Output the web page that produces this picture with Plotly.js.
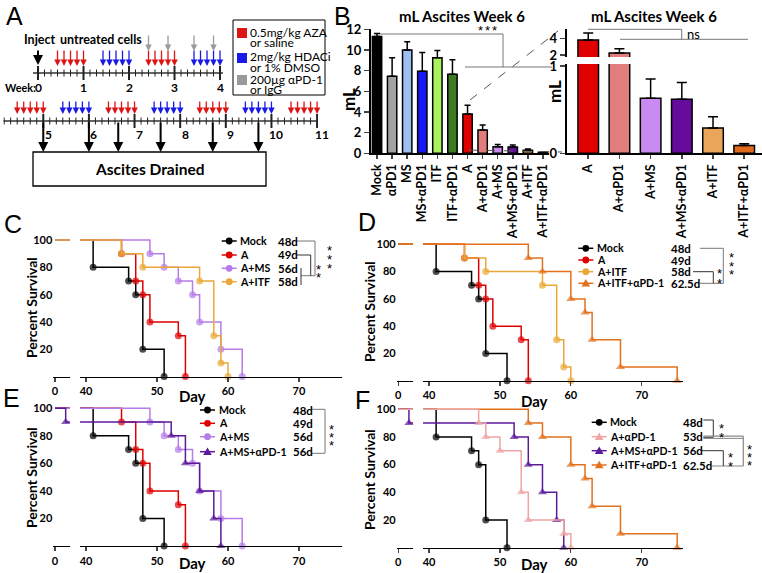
<!DOCTYPE html>
<html>
<head>
<meta charset="utf-8">
<script src="https://cdn.plot.ly/plotly-3.0.1.min.js"></script>
<style>body{margin:0;background:#fff;} #plot{width:762px;height:573px;}</style>
</head>
<body>
<div id="plot"></div>
<script>
// ---- data ----
// B: mL ascites at week 6
var groups = ['Mock','αPD1','MS','MS+αPD1','ITF','ITF+αPD1','A','A+αPD1','A+MS','A+MS+αPD1','A+ITF','A+ITF+αPD1'];
var mlMean = [11.3, 7.45, 10.0, 7.95, 9.25, 7.65, 3.8, 2.25, 0.63, 0.62, 0.29, 0.09];
var mlErr  = [0.3, 1.8, 0.8, 1.8, 0.7, 1.4, 0.85, 0.5, 0.22, 0.19, 0.13, 0.02];
var barColors = ['#000000','#a2a2a2','#9fbff3','#1818f2','#aaf25e','#3d7c20','#e00000','#e27d7d','#c98af2','#650c9c','#e9a55a','#df6a1a'];

// C-F: Kaplan-Meier steps (day of death, % surviving after it)
var mockDays = [41, 46, 47, 48, 51];          var mockSurv = [80, 70, 60, 20, 0];
var aDays = [45, 47, 48, 49, 53, 54];          var aSurv = [90, 70, 60, 40, 30, 0];
var amsDays = [49, 51, 53, 55, 56, 59, 62];    var amsSurv = [90, 80, 70, 60, 40, 20, 0];
var aitfDays = [45, 48, 56, 58, 59, 60];       var aitfSurv = [90, 80, 70, 30, 10, 0];
var aitfpDays = [54, 56, 60, 62, 63, 67, 75];  var aitfpSurv = [90, 80, 60, 50, 30, 10, 0];
var apDays = [47, 48, 50, 53, 54, 59, 60];     var apSurv = [90, 80, 70, 40, 20, 10, 0];
var amspDays = [1.5, 52, 54, 56, 58, 59];      var amspSurv = [90, 80, 60, 40, 20, 0];

var legC = ['Mock','A','A+MS','A+ITF'];               var medC = ['48d','49d','56d','58d'];
var legD = ['Mock','A','A+ITF','A+ITF+αPD-1'];        var medD = ['48d','49d','58d','62.5d'];
var legE = ['Mock','A','A+MS','A+MS+αPD-1'];          var medE = ['48d','49d','56d','56d'];
var legF = ['Mock','A+αPD-1','A+MS+αPD-1','A+ITF+αPD-1']; var medF = ['48d','53d','56d','62.5d'];

// A: treatment schedule (days)
var azaDays = [3,4,5,6,7, 17,18,19,20,21, 31,32,33,34,35, 45,46,47,48,49, 59,60,61,62,63, 73,74,75,76,77];
var hdacDays = [10,11,12,13,14, 24,25,26,27,28, 38,39,40,41,42, 52,53,54,55,56, 66,67,68,69,70];
var pd1Days = [17, 20, 24, 27];
var drainDays = [35, 42, 46.5, 53, 61, 68];
var weeks = [0,1,2,3,4,5,6,7,8,9,10,11];

// ---- helpers ----
var W = 762, H = 573;
function px(x){ return x / W; }
function py(y){ return 1 - y / H; }
function dx(a, b){ return [px(a), px(b)]; }
function dy(top, bottom){ return [py(bottom), py(top)]; }
var shapes = [], ann = [];
function line(x0, y0, x1, y1, color, width, dash){
  shapes.push({type:'line', xref:'paper', yref:'paper', x0:px(x0), y0:py(y0), x1:px(x1), y1:py(y1),
    line:{color:color || 'black', width:width || 1, dash:dash || 'solid'}});
}
function poly(pts, color, width){
  for (var i = 0; i < pts.length - 1; i++) line(pts[i][0], pts[i][1], pts[i+1][0], pts[i+1][1], color, width);
}
function label(x, y, s, size, opt){
  opt = opt || {};
  ann.push({xref:'paper', yref:'paper', x:px(x), y:py(y), text:s, showarrow:false,
    xanchor:opt.anchor || 'center', yanchor:'middle', textangle:opt.angle || 0,
    font:{family:opt.family || 'Lato', size:size, color:opt.color || 'black', weight:opt.weight || 'normal'}});
}
function stars(x, ys){
  ys.forEach(function(y){
    ann.push({xref:'paper', yref:'paper', x:px(x), y:py(y), text:'*', showarrow:false, xanchor:'center',
      yanchor:'middle', yshift:-4, font:{family:'Liberation Sans', size:13, color:'black'}});
  });
}

var km = {
  'Mock': [mockDays, mockSurv], 'A': [aDays, aSurv], 'A+MS': [amsDays, amsSurv], 'A+ITF': [aitfDays, aitfSurv],
  'A+ITF+αPD-1': [aitfpDays, aitfpSurv], 'A+αPD-1': [apDays, apSurv], 'A+MS+αPD-1': [amspDays, amspSurv]
};
var kmStyle = {
  'Mock': {color:'#000000', symbol:'circle'},
  'A': {color:'#e00000', symbol:'circle'},
  'A+MS': {color:'#b67ce8', symbol:'circle'},
  'A+ITF': {color:'#eaa838', symbol:'circle'},
  'A+ITF+αPD-1': {color:'#e2701d', symbol:'triangle-up'},
  'A+αPD-1': {color:'#f0a4a4', symbol:'triangle-up'},
  'A+MS+αPD-1': {color:'#5c1a9a', symbol:'triangle-up'}
};

var data = [];

// ---- B bars ----
var zeros = mlErr.map(function(){ return 0; });
data.push({type:'bar', x:groups, y:mlMean, xaxis:'x', yaxis:'y', width:0.62,
  marker:{color:barColors, line:{color:'black', width:1.5}},
  error_y:{type:'data', symmetric:false, array:mlErr, arrayminus:zeros, color:'black', thickness:1.5, width:3},
  hoverinfo:'skip'});
['y2','y3'].forEach(function(ya){
  data.push({type:'bar', x:groups.slice(6), y:mlMean.slice(6), xaxis:'x2', yaxis:ya, width:0.66,
    marker:{color:barColors.slice(6), line:{color:'black', width:1.5}},
    error_y:{type:'data', symmetric:false, array:mlErr.slice(6), arrayminus:zeros.slice(6), color:'black', thickness:1.5, width:5},
    hoverinfo:'skip'});
});

// ---- survival curves ----
function kmTraces(name, xa1, xa2, ya){
  var d = km[name], st = kmStyle[name];
  var xs = [0].concat(d[0]), ys = [100].concat(d[1]);
  var sizes = xs.map(function(v, i){ return i === 0 ? 0 : (st.symbol === 'circle' ? 7 : 8); });
  return [xa1, xa2].map(function(xa){
    return {type:'scatter', mode:'lines+markers', x:xs, y:ys, xaxis:xa, yaxis:ya, cliponaxis:false,
      line:{shape:'hv', color:st.color, width:1.5}, marker:{symbol:st.symbol, size:sizes, color:st.color, line:{width:0}},
      hoverinfo:'skip'};
  });
}
var panels = [
  {names:legC, meds:medC, order:legC, xs:'x3', xb:'x4', y:'y4', lx:221.7, rows:[241,255,268.3,281.7], mx:276},
  {names:legD, meds:medD, order:legD, xs:'x5', xb:'x6', y:'y5', lx:578.3, rows:[248.3,260,271.7,283.3], mx:669},
  {names:legE, meds:medE, order:legE, xs:'x7', xb:'x8', y:'y6', lx:200, rows:[410,423.3,436.7,451.7], mx:291},
  {names:legF, meds:medF, order:['Mock','A+ITF+αPD-1','A+MS+αPD-1','A+αPD-1'], xs:'x9', xb:'x10', y:'y7', lx:591.7, rows:[422.3,436.7,450.7,465], mx:681}
];
panels.forEach(function(p){
  p.order.forEach(function(n){ data = data.concat(kmTraces(n, p.xs, p.xb, p.y)); });
  p.names.forEach(function(n, i){
    var st = kmStyle[n], ry = p.rows[i], cx = p.lx + 7.5;
    line(p.lx, ry, p.lx + 15, ry, st.color, 1.5);
    if (st.symbol === 'circle') {
      shapes.push({type:'circle', xref:'paper', yref:'paper', x0:px(cx-3.4), x1:px(cx+3.4), y0:py(ry+3.4), y1:py(ry-3.4),
        fillcolor:st.color, line:{width:0}});
    } else {
      shapes.push({type:'path', xref:'paper', yref:'paper', fillcolor:st.color, line:{width:0},
        path:'M'+px(cx-4.3)+','+py(ry+3.2)+' L'+px(cx+4.3)+','+py(ry+3.2)+' L'+px(cx)+','+py(ry-4.2)+' Z'});
    }
    label(p.lx + 16.5, ry, n, 10.6, {anchor:'left', weight:'bold'});
    label(p.mx, ry, p.meds[i], 11.5, {anchor:'left', weight:'bold'});
  });
});

// dummy traces so the schedule axes exist
data.push({type:'scatter', x:[0], y:[0], xaxis:'x11', yaxis:'y8', mode:'markers', marker:{opacity:0}, hoverinfo:'skip'});
data.push({type:'scatter', x:[40], y:[0], xaxis:'x12', yaxis:'y8', mode:'markers', marker:{opacity:0}, hoverinfo:'skip'});

// ---- A: schedule ----
var rows = [
  {xa:'x11', y:73, head:66, len:17, d0:-0.77, d1:28.46, lab:87, shift:0},
  {xa:'x12', y:121, head:114, len:14, d0:28.87, d1:77.14, lab:135, shift:5}
];
function rowFor(d){ return d <= 28.5 ? rows[0] : rows[1]; }
rows.forEach(function(r){
  shapes.push({type:'line', xref:r.xa, yref:'paper', x0:r.d0, x1:r.d1, y0:py(r.y), y1:py(r.y), line:{color:'#333', width:1.3}});
  for (var d = Math.ceil(r.d0); d <= r.d1; d++) {
    var major = d % 7 === 0, h = major ? 7 : 3.5;
    shapes.push({type:'line', xref:r.xa, yref:'paper', x0:d, x1:d, y0:py(r.y - h), y1:py(r.y + h),
      line:{color:'#222', width:major ? 2 : 1}});
  }
});
weeks.forEach(function(w){
  var r = rowFor(w * 7);
  ann.push({xref:r.xa, yref:'paper', x:w * 7, y:py(r.lab), text:String(w), showarrow:false, xshift:r.shift,
    xanchor:'center', yanchor:'middle', font:{family:'Lato', size:12, weight:'bold', color:'black'}});
});
function arrowAt(xa, d, yHead, len, color, width){
  ann.push({xref:xa, yref:'paper', x:d, y:py(yHead), ax:0, ay:-len, text:'', showarrow:true,
    arrowhead:2, arrowsize:1, arrowwidth:width, arrowcolor:color, standoff:0});
}
azaDays.forEach(function(d){ var r = rowFor(d); arrowAt(r.xa, d, r.head, r.len, '#dd1414', 1.3); });
hdacDays.forEach(function(d){ var r = rowFor(d); arrowAt(r.xa, d, r.head, r.len, '#1a1ae8', 1.3); });
pd1Days.forEach(function(d){ arrowAt('x11', d, 51, 17, '#9a9a9a', 1.3); });
arrowAt('x11', 0, 65, 16, 'black', 2);
drainDays.forEach(function(d){ arrowAt('x12', d, 152, 31, 'black', 2); });
label(22, 39, 'Inject', 12.5, {anchor:'left', weight:'bold'});
label(58, 39, 'untreated cells', 12.5, {anchor:'left', weight:'bold'});
label(3, 87, 'Week:', 10.8, {anchor:'left', weight:'bold'});
shapes.push({type:'rect', xref:'paper', yref:'paper', x0:px(33), x1:px(266), y0:py(186), y1:py(152), line:{color:'black', width:1.3}});
label(150, 169, 'Ascites Drained', 15.5, {weight:'bold'});
// treatment key
shapes.push({type:'rect', xref:'paper', yref:'paper', x0:px(233), x1:px(325), y0:py(95), y1:py(20), line:{color:'black', width:1}});
[['#dd1414', 28, '0.5mg/kg AZA', 'or saline'], ['#1a1ae8', 53, '2mg/kg HDACi', 'or 1% DMSO'], ['#9a9a9a', 75, '200µg αPD-1', 'or IgG']].forEach(function(k){
  shapes.push({type:'rect', xref:'paper', yref:'paper', x0:px(237), x1:px(247), y0:py(k[1] + 10), y1:py(k[1]), fillcolor:k[0], line:{width:0}});
  label(248, k[1] + 4, k[2], 12, {anchor:'left'});
  label(248, k[1] + 14.5, k[3], 12, {anchor:'left'});
});

// ---- B decorations ----
label(462, 16, 'mL Ascites Week 6', 15, {weight:'bold'});
label(654, 16, 'mL Ascites Week 6', 15, {weight:'bold'});
label(348, 100, 'mL', 17, {weight:'bold', angle:-90});
label(554, 92, 'mL', 17, {weight:'bold', angle:-90});
poly([[380, 34], [503, 34], [503, 67]], '#777', 1);
line(465, 67, 552, 67, '#777', 1);
stars(480, [27]); stars(487, [27]); stars(494, [27]);
line(470, 100, 558, 31, '#555', 1, 'dash');
line(468, 150, 562, 152, '#555', 1, 'dash');
poly([[588, 29.3], [681.7, 29.3], [681.7, 39.3]], '#777', 1);
line(620, 39.3, 748, 39.3, '#777', 1);
label(693, 34, 'ns', 13);

// ---- survival decorations ----
[[31, 308, 192, 396], [369, 312, 534, 401], [31, 478, 192, 563], [369, 480, 534, 564]].forEach(function(t){
  label(t[0], t[1], 'Percent Survival', 14, {weight:'bold', angle:-90});
  label(t[2], t[3], 'Day', 15, {weight:'bold'});
});
// C brackets
poly([[297, 241], [315, 241], [315, 275.7], [301, 275.7]], '#777', 1);
poly([[297, 255], [310.7, 255], [310.7, 275.7]], '#333', 1);
line(301, 268, 301, 285, '#333', 1);
stars(329, [246.7, 255.3, 264]); stars(318, [265, 273]);
// D brackets
poly([[700, 248.3], [723.3, 248.3], [723.3, 283.3], [700, 283.3]], '#777', 1);
poly([[693, 271.7], [713.3, 271.7], [713.3, 283.3]], '#333', 1);
stars(731.7, [253, 262, 271]); stars(719, [270, 279]);
// E brackets
poly([[311.7, 409.3], [325, 409.3], [325, 453.3], [311.7, 453.3]], '#777', 1);
stars(331, [425, 433.3, 441.7]);
// F brackets
poly([[703.3, 420], [713.3, 420], [713.3, 437.3], [703.3, 437.3]], '#333', 1);
stars(721.7, [424.3, 433.3]);
poly([[703.3, 436.2], [743.3, 436.2], [743.3, 466], [711.7, 466]], '#888', 1.2);
line(703.3, 438.4, 743.3, 438.4, '#888', 1);
stars(749, [445, 453.3, 461.7]);
poly([[701.7, 450.7], [723.3, 450.7], [723.3, 466]], '#333', 1);
stars(730, [453.3, 462.3]);

// panel letters
[['A', 14, 16], ['B', 342, 16], ['C', 12.5, 224], ['D', 367, 222], ['E', 11.5, 398], ['F', 362, 400]].forEach(function(l){
  label(l[1], l[2], l[0], 25, {family:'Liberation Sans'});
});

// ---- axes ----
var tickBold = {family:'Lato', size:13, weight:'bold', color:'black'};
var catFont = {family:'Lato', size:12.5, weight:'bold', color:'black'};
var survTick = {family:'Lato', size:11, weight:'bold', color:'black'};
function catAxis(dom, rng, anchor, cats){
  return {domain:dom, range:rng, anchor:anchor, type:'category', tickmode:'array', tickvals:cats, showline:true, linewidth:2, linecolor:'black',
    ticks:'outside', ticklen:4, tickwidth:1.5, tickangle:-90, tickfont:catFont, showgrid:false, zeroline:false, fixedrange:true};
}
function valAxis(dom, rng, anchor, vals){
  return {domain:dom, range:rng, anchor:anchor, showline:true, linewidth:2, linecolor:'black', ticks:'outside',
    ticklen:5, tickwidth:1.5, tickvals:vals, tickfont:tickBold, showgrid:false, zeroline:false, fixedrange:true};
}
function segAxis(dom, rng, anchor, vals){
  return {domain:dom, range:rng, anchor:anchor, showline:true, linewidth:1.3, linecolor:'black', ticks:'outside',
    ticklen:4, tickwidth:1.2, tickvals:vals, tickfont:survTick, showgrid:false, zeroline:false, fixedrange:true};
}
function survY(dom, anchor){
  return {domain:dom, range:[0, 102], anchor:anchor, showline:false, ticks:'',
    tickvals:[20, 40, 60, 80, 100], tickfont:survTick, showgrid:false, zeroline:false, fixedrange:true};
}
function hidden(dom, rng, anchor){
  return {domain:dom, range:rng, anchor:anchor, visible:false, showgrid:false, zeroline:false, fixedrange:true};
}

var layout = {
  width:W, height:H, margin:{l:0, r:0, t:0, b:0}, showlegend:false,
  paper_bgcolor:'white', plot_bgcolor:'rgba(0,0,0,0)', bargap:0.3,
  font:{family:'Lato', color:'black'},
  xaxis: catAxis(dx(371, 549), [-0.4, 11.4], 'y', groups),
  yaxis: valAxis(dy(29.3, 153.3), [0, 12], 'x', [0, 2, 4, 6, 8, 10, 12]),
  xaxis2: catAxis(dx(566.7, 762), [-0.69, 5.57], 'y2', groups.slice(6)),
  yaxis2: valAxis(dy(64, 153.3), [0, 1.023], 'x2', [0, 1]),
  yaxis3: valAxis(dy(29.3, 57), [1.76, 5.08], 'x2', [2, 4]),
  xaxis3: segAxis(dx(53.3, 70), [-0.24, 2.11], 'y4', [0]),
  xaxis4: segAxis(dx(80, 342), [39.15, 76.06], 'y4', [40, 50, 60, 70]),
  yaxis4: survY(dy(237.3, 376.6), 'x3'),
  xaxis5: segAxis(dx(396.7, 413), [-0.225, 2.07], 'y5', [0]),
  xaxis6: segAxis(dx(423, 683.3), [39.15, 75.86], 'y5', [40, 50, 60, 70]),
  yaxis5: survY(dy(241.6, 380.7), 'x5'),
  xaxis7: segAxis(dx(53.3, 70), [-0.24, 2.11], 'y6', [0]),
  xaxis8: segAxis(dx(80, 342), [39.15, 76.06], 'y6', [40, 50, 60, 70]),
  yaxis6: survY(dy(405.5, 546), 'x7'),
  xaxis9: segAxis(dx(396.7, 413), [-0.225, 2.07], 'y7', [0]),
  xaxis10: segAxis(dx(423, 683.3), [39.15, 75.86], 'y7', [40, 50, 60, 70]),
  yaxis7: survY(dy(406.5, 547.7), 'x9'),
  xaxis11: hidden(dx(33, 223), [-0.77, 28.46], 'y8'),
  xaxis12: hidden(dx(3.3, 318), [28.87, 77.14], 'y8'),
  yaxis8: hidden([0, 1], [0, 1], 'x11'),
  shapes: shapes,
  annotations: ann
};

Plotly.newPlot('plot', data, layout, {staticPlot:true, displayModeBar:false});
</script>
</body>
</html>
